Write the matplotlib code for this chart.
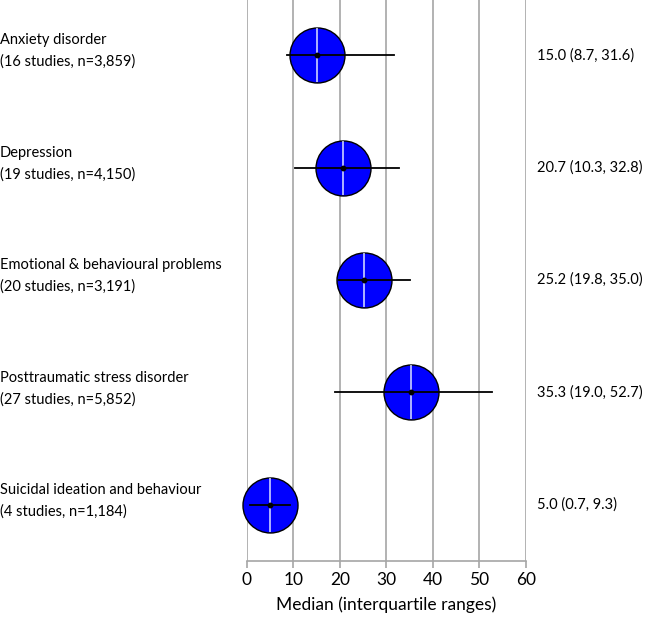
import matplotlib
matplotlib.use("Agg")
import matplotlib.pyplot as plt

outcomes = ["Anxiety disorder", "Depression", "Emotional & behavioural problems",
            "Posttraumatic stress disorder", "Suicidal ideation and behaviour"]
studies = ["(16 studies, n=3,859)", "(19 studies, n=4,150)", "(20 studies, n=3,191)",
           "(27 studies, n=5,852)", "(4 studies, n=1,184)"]
medians = [15.0, 20.7, 25.2, 35.3, 5.0]
q1 = [8.7, 10.3, 19.8, 19.0, 0.7]
q3 = [31.6, 32.8, 35.0, 52.7, 9.3]
xticks = [0, 10, 20, 30, 40, 50, 60]

plt.rcParams['font.family'] = ['Lato', 'DejaVu Sans']

W, H = 646, 644
x0, x1 = 246.7, 526.0
fig = plt.figure(figsize=(W/100, H/100), dpi=100)
ax = fig.add_axes([x0/W, 1-561/H, (x1-x0)/W, 561/H])

n = len(outcomes)
ys = [n - i for i in range(n)]
grid_c = '#a6a6a6'
for xt in xticks:
    ax.axvline(xt, color=grid_c, lw=1.2, zorder=0)

msize = 55*0.72
for y, m, a, b in zip(ys, medians, q1, q3):
    ax.plot([m], [y], 'o', ms=msize, mfc='#0000ff', mec='black', mew=1.0, zorder=3, clip_on=False)
    ax.plot([m], [y], '|', ms=msize-1, mec='#dde4ff', mew=1.1, zorder=4, clip_on=False)
    ax.plot([a, b], [y, y], color='black', lw=1.3, zorder=5, clip_on=False)
    ax.plot([m], [y], 'o', ms=3.2, color='black', zorder=6, clip_on=False)

ax.set_xlim(0, 60)
ax.set_ylim(0.5, 5.49)
ax.set_yticks([])
ax.set_xticks(xticks)
ax.tick_params(axis='x', labelsize=12.5, length=5, color=grid_c, width=1.2, pad=3)
for s in ['top', 'right', 'left']:
    ax.spines[s].set_visible(False)
ax.spines['bottom'].set_color(grid_c)
ax.spines['bottom'].set_linewidth(1.2)
ax.set_xlabel("Median (interquartile ranges)", fontsize=12.5, labelpad=6)

trans = ax.get_yaxis_transform()
lx = -x0/(x1-x0)
rx = (537-x0)/(x1-x0)
for y, o, s, m, a, b in zip(ys, outcomes, studies, medians, q1, q3):
    ax.text(lx, y + 0.13, o, transform=trans, fontsize=10.5, ha='left', va='center')
    ax.text(lx, y - 0.06, s, transform=trans, fontsize=10.5, ha='left', va='center')
    ax.text(rx, y, f"{m:.1f} ({a:.1f}, {b:.1f})", transform=trans,
            fontsize=10.5, ha='left', va='center')

fig.savefig("out.png", dpi=100)
